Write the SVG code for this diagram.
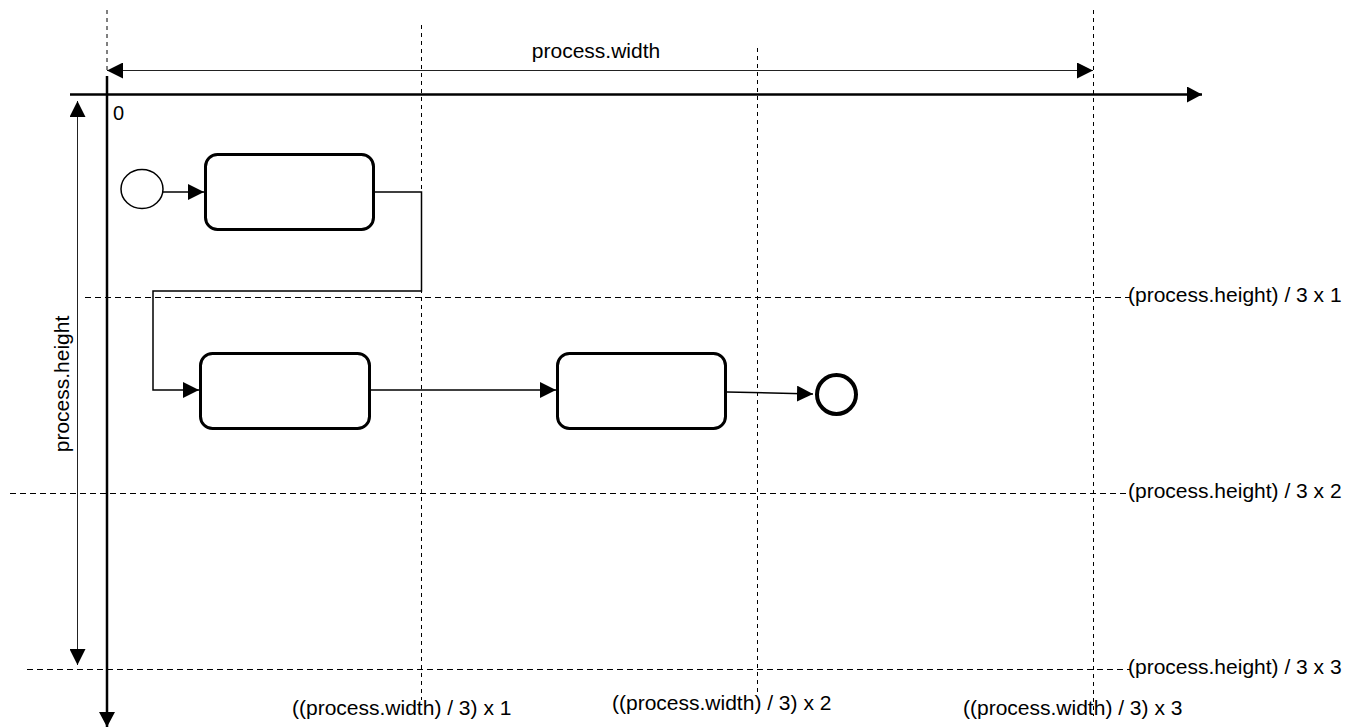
<svg xmlns="http://www.w3.org/2000/svg" width="1360" height="728" viewBox="0 0 1360 728">
<style>
.lbl{font-family:"Liberation Sans",Arial,sans-serif;font-size:21px;fill:#000}
.grid{stroke:#000;stroke-width:1;fill:none}
.gh{stroke-dasharray:6 4}
.gv{stroke-dasharray:4 4}
.task{fill:#fff;stroke:#000;stroke-width:3}
.flow{fill:none;stroke:#000;stroke-width:1.5}
.dim{fill:none;stroke:#222;stroke-width:1}
.axis{fill:none;stroke:#000;stroke-width:2.5}
</style>
<defs>
<marker id="ah" viewBox="0 0 16 16" refX="16" refY="8" markerWidth="16" markerHeight="16" markerUnits="userSpaceOnUse" orient="auto">
<path d="M0,0 L16,8 L0,16 Z" fill="#000"/>
</marker>
<marker id="ahd" viewBox="0 0 16 16" refX="16" refY="8" markerWidth="16" markerHeight="16" markerUnits="userSpaceOnUse" orient="auto-start-reverse">
<path d="M0,0 L16,8 L0,16 Z" fill="#000"/>
</marker>
<marker id="aha" viewBox="0 0 15 16" refX="15" refY="8" markerWidth="15" markerHeight="16" markerUnits="userSpaceOnUse" orient="auto">
<path d="M0,0 L15,8 L0,16 Z" fill="#000"/>
</marker>
</defs>
<g id="grid">
<line class="grid gv" x1="107" y1="10" x2="107" y2="72"/>
<line class="grid gv" x1="421.5" y1="25" x2="421.5" y2="700"/>
<line class="grid gv" x1="757.5" y1="48" x2="757.5" y2="692"/>
<line class="grid gv" x1="1093.5" y1="10" x2="1093.5" y2="716"/>
<line class="grid gh" x1="85" y1="297.5" x2="1130" y2="297.5"/>
<line class="grid gh" x1="10" y1="493.5" x2="1130" y2="493.5"/>
<line class="grid gh" x1="27" y1="669.5" x2="1130" y2="669.5"/>
</g>
<g id="axes">
<line class="axis" x1="70" y1="94.5" x2="1202" y2="94.5" marker-end="url(#aha)"/>
<line class="axis" x1="107" y1="76" x2="107" y2="727" marker-end="url(#aha)"/>
<text class="lbl" x="113" y="120" style="font-size:20px">0</text>
</g>
<g id="dimensions">
<line class="dim" x1="107" y1="70.5" x2="1093" y2="70.5" marker-start="url(#ahd)" marker-end="url(#ahd)"/>
<text class="lbl" x="596" y="58" text-anchor="middle">process.width</text>
<line class="dim" x1="77.5" y1="101" x2="77.5" y2="665" marker-start="url(#ahd)" marker-end="url(#ahd)"/>
<text class="lbl" transform="translate(69,384) rotate(-90)" text-anchor="middle">process.height</text>
</g>
<g id="labels">
<text class="lbl" x="1128" y="302">(process.height) / 3 x 1</text>
<text class="lbl" x="1128" y="498">(process.height) / 3 x 2</text>
<text class="lbl" x="1128" y="674">(process.height) / 3 x 3</text>
<text class="lbl" x="292" y="715">((process.width) / 3) x 1</text>
<text class="lbl" x="612" y="710">((process.width) / 3) x 2</text>
<text class="lbl" x="963" y="715">((process.width) / 3) x 3</text>
</g>
<g id="connectors">
<line class="flow" x1="163" y1="192" x2="204" y2="192" marker-end="url(#ah)"/>
<polyline class="flow" points="375,192 421.5,192 421.5,291 153,291 153,390 199,390" marker-end="url(#ah)"/>
<line class="flow" x1="371" y1="390" x2="556" y2="390" marker-end="url(#ah)"/>
<line class="flow" x1="727" y1="392" x2="813" y2="394" marker-end="url(#ah)"/>
</g>
<g id="start-event">
<ellipse cx="142" cy="189" rx="21" ry="19.5" fill="#fff" stroke="#000" stroke-width="1.5"/>
</g>
<g id="task-1">
<rect class="task" x="205.5" y="154.5" width="168" height="75" rx="12"/>
</g>
<g id="task-2">
<rect class="task" x="200.5" y="353.5" width="169" height="75" rx="12"/>
</g>
<g id="task-3">
<rect class="task" x="557.5" y="353.5" width="168" height="75" rx="12"/>
</g>
<g id="end-event">
<circle cx="836.5" cy="394.5" r="19.5" fill="#fff" stroke="#000" stroke-width="4"/>
</g>
</svg>
